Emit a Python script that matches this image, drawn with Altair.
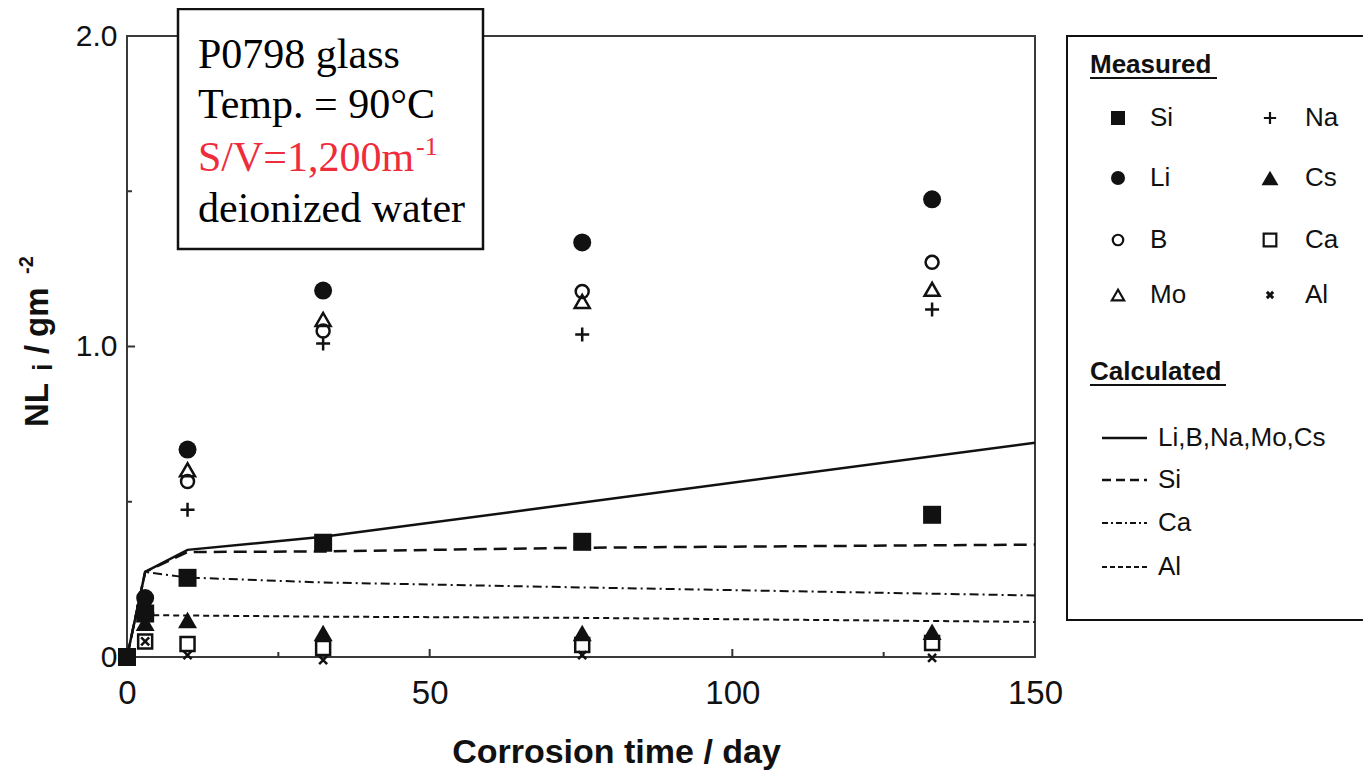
import altair as alt
import pandas as pd

# ---------------- data ----------------
times = [0, 3, 10, 32.4, 75.2, 133]
si = [0, 0.14, 0.255, 0.368, 0.371, 0.458]
li = [None, 0.19, 0.668, 1.18, 1.335, 1.474]
b = [None, 0.15, 0.565, 1.05, 1.177, 1.271]
mo = [None, 0.165, 0.603, 1.087, 1.145, 1.184]
na = [None, 0.12, 0.474, 1.01, 1.039, 1.119]
cs = [None, 0.11, 0.119, 0.077, 0.077, 0.081]
ca = [None, 0.05, 0.042, 0.029, 0.039, 0.045]
al = [None, 0.05, 0.006, -0.01, 0.006, -0.003]

calc_all_t = [0, 3, 10, 32.4, 150]
calc_all_v = [0, 0.274, 0.345, 0.387, 0.69]
calc_si_t = [0, 3, 10, 32.4, 75.2, 150]
calc_si_v = [0, 0.274, 0.338, 0.34, 0.352, 0.362]
calc_ca_t = [0, 3, 10, 32.4, 75.2, 150]
calc_ca_v = [0, 0.274, 0.256, 0.24, 0.224, 0.198]
calc_al_t = [0, 1.5, 32.4, 75.2, 150]
calc_al_v = [0, 0.135, 0.13, 0.126, 0.113]

xtick_major = [50, 100]
xtick_minor = [25, 75, 125]
ytick_major = [1.0]
ytick_minor = [0.5, 1.5]

# ---------------- layout ----------------
OX, OY = 127, 36          # page position of plot origin
W, H = 908, 621
PAD = {"left": OX - 8, "top": OY - 8, "right": 1355 - (OX - 8) - W, "bottom": 763 - (OY - 8) - H}
INK = "#111111"
SANS = "Liberation Sans"
SERIF = "Liberation Serif"

xscale = alt.Scale(domain=[0, 150], nice=False, zero=False)
yscale = alt.Scale(domain=[0, 2], nice=False, zero=False)
xaxis = alt.Axis(values=[0, 50, 100, 150], ticks=False, domain=False, grid=False,
                 labelFlush=False, labelOverlap=False,
                 labelFont=SANS, labelFontSize=33, labelColor=INK, labelPadding=20,
                 title="Corrosion time / day", titleFont=SANS, titleFontSize=34,
                 titleFontWeight="bold", titleColor=INK, titleX=616 - OX, titleY=762 - (OY + H),
                 titleAlign="center", titleBaseline="alphabetic")
yaxis = alt.Axis(values=[0, 1, 2], ticks=False, domain=False, grid=False,
                 labelFlush=False, labelOverlap=False,
                 labelFont=SANS, labelFontSize=30, labelColor=INK, labelPadding=10,
                 labelExpr="datum.value == 0 ? '0' : format(datum.value, '.1f')", title=None)
X = alt.X("t:Q", scale=xscale, axis=xaxis)
Y = alt.Y("v:Q", scale=yscale, axis=yaxis)

one = pd.DataFrame({"k": [0]})
PLUS = "M-1,0L1,0M0,-1L0,1"
CROSS = "M-1,-1L1,1M-1,1L1,-1"


def series(tl, vl):
    d = pd.DataFrame({"t": tl, "v": vl})
    return d.dropna()


def pts(vals, shape, size, filled, sw=2.5):
    return alt.Chart(series(times, vals)).mark_point(
        shape=shape, size=size, filled=filled, color=INK, strokeWidth=sw, opacity=1
    ).encode(x=X, y=Y)


def line(tl, vl, dash, sw):
    kw = dict(color=INK, strokeWidth=sw)
    if dash:
        kw["strokeDash"] = dash
    return alt.Chart(series(tl, vl)).mark_line(**kw).encode(x=X, y=Y)


def txt(s, px, py, size, weight="normal", font=SANS, color=INK, align="left",
        baseline="alphabetic", angle=0):
    return alt.Chart(one).mark_text(
        text=s, fontSize=size, fontWeight=weight, font=font, color=color,
        align=align, baseline=baseline, angle=angle
    ).encode(x=alt.value(px - OX), y=alt.value(py - OY))


def hrule(x1, x2, py, sw=2, dash=None):
    kw = dict(color=INK, strokeWidth=sw)
    if dash:
        kw["strokeDash"] = dash
    return alt.Chart(one).mark_rule(**kw).encode(
        x=alt.value(x1 - OX), x2=alt.value(x2 - OX), y=alt.value(py - OY))


def box(x1, x2, y1, y2, sw):
    return alt.Chart(one).mark_rect(fill="white", stroke=INK, strokeWidth=sw).encode(
        x=alt.value(x1 - OX), x2=alt.value(x2 - OX), y=alt.value(y1 - OY), y2=alt.value(y2 - OY))


def sym(shape, px, py, size, filled, sw=2.2):
    return alt.Chart(one).mark_point(shape=shape, size=size, filled=filled, color=INK,
                                     strokeWidth=sw, opacity=1).encode(
        x=alt.value(px - OX), y=alt.value(py - OY))


layers = []

# inward ticks
layers.append(alt.Chart(pd.DataFrame({"t": xtick_major})).mark_rule(color="#333", strokeWidth=2)
              .encode(x=X, y=alt.value(H), y2=alt.value(H - 8)))
layers.append(alt.Chart(pd.DataFrame({"t": xtick_minor})).mark_rule(color="#333", strokeWidth=2)
              .encode(x=X, y=alt.value(H), y2=alt.value(H - 5)))
layers.append(alt.Chart(pd.DataFrame({"v": ytick_major})).mark_rule(color="#333", strokeWidth=2)
              .encode(y=Y, x=alt.value(0), x2=alt.value(8)))
layers.append(alt.Chart(pd.DataFrame({"v": ytick_minor})).mark_rule(color="#333", strokeWidth=2)
              .encode(y=Y, x=alt.value(0), x2=alt.value(5)))

# calculated curves
layers.append(line(calc_al_t, calc_al_v, [6, 4], 2))
layers.append(line(calc_ca_t, calc_ca_v, [9, 4, 2, 4], 2))
layers.append(line(calc_si_t, calc_si_v, [13, 7], 2.5))
layers.append(line(calc_all_t, calc_all_v, None, 2.5))

# measured points
layers.append(pts(ca, "square", 196, False))
layers.append(pts(al, CROSS, 64, False))
layers.append(pts(b, "circle", 169, False))
layers.append(pts(mo, "triangle-up", 225, False))
layers.append(pts(na, PLUS, 196, False))
layers.append(pts(cs, "triangle-up", 361, True))
layers.append(pts(si, "square", 324, True))
layers.append(pts(li, "circle", 324, True))

# y-axis title (rotated, with sub/superscript)
layers.append(txt("NL", 48, 427, 33, "bold", angle=270))
layers.append(txt("i", 52, 371, 27, "bold", angle=270))
layers.append(txt("/", 48, 354, 33, "bold", angle=270))
layers.append(txt("gm", 48, 337, 33, "bold", angle=270))
layers.append(txt("-2", 33, 274, 20, "bold", angle=270))

# annotation box
layers.append(box(178, 483, 9, 249, 2.5))
layers.append(txt("P0798 glass", 198, 68, 42, font=SERIF, color="black"))
layers.append(txt("Temp. = 90°C", 198, 118, 42, font=SERIF, color="black"))
layers.append(txt("S/V=1,200m", 198, 171, 42, font=SERIF, color="#EE2C3C"))
layers.append(txt("-1", 416, 155, 26, font=SERIF, color="#EE2C3C"))
layers.append(txt("deionized water", 198, 222, 42, font=SERIF, color="black"))

# legend box
layers.append(box(1067, 1400, 36, 620, 2))
layers.append(txt("Measured", 1090, 73, 26, "bold"))
layers.append(hrule(1090, 1217, 78, 2))
rows = [118, 178, 240, 295]
lx_sym, lx_txt, rx_sym, rx_txt = 1118, 1150, 1270, 1305
layers.append(sym("square", lx_sym, rows[0], 196, True))
layers.append(txt("Si", lx_txt, rows[0], 26, baseline="middle"))
layers.append(sym(PLUS, rx_sym, rows[0], 150, False))
layers.append(txt("Na", rx_txt, rows[0], 26, baseline="middle"))
layers.append(sym("circle", lx_sym, rows[1], 196, True))
layers.append(txt("Li", lx_txt, rows[1], 26, baseline="middle"))
layers.append(sym("triangle-up", rx_sym, rows[1], 289, True))
layers.append(txt("Cs", rx_txt, rows[1], 26, baseline="middle"))
layers.append(sym("circle", lx_sym, rows[2], 110, False))
layers.append(txt("B", lx_txt, rows[2], 26, baseline="middle"))
layers.append(sym("square", rx_sym, rows[2], 160, False))
layers.append(txt("Ca", rx_txt, rows[2], 26, baseline="middle"))
layers.append(sym("triangle-up", lx_sym, rows[3], 150, False))
layers.append(txt("Mo", lx_txt, rows[3], 26, baseline="middle"))
layers.append(sym(CROSS, rx_sym, rows[3], 40, False, 3))
layers.append(txt("Al", rx_txt, rows[3], 26, baseline="middle"))

layers.append(txt("Calculated", 1090, 380, 26, "bold"))
layers.append(hrule(1090, 1226, 385, 2))
lrows = [438, 480, 523, 567]
layers.append(hrule(1102, 1147, lrows[0], 2.5))
layers.append(txt("Li,B,Na,Mo,Cs", 1158, lrows[0], 26, baseline="middle"))
layers.append(hrule(1102, 1147, lrows[1], 2.5, [9, 5]))
layers.append(txt("Si", 1158, lrows[1], 26, baseline="middle"))
layers.append(hrule(1102, 1147, lrows[2], 2, [6, 3, 2, 3]))
layers.append(txt("Ca", 1158, lrows[2], 26, baseline="middle"))
layers.append(hrule(1102, 1147, lrows[3], 2, [5, 3]))
layers.append(txt("Al", 1158, lrows[3], 26, baseline="middle"))

chart = alt.layer(*layers).properties(
    width=W, height=H, padding=PAD, autosize=alt.AutoSizeParams(type="none"),
    background="white"
).configure_view(stroke="#3a3a3a", strokeWidth=2, fill="white")

chart.save("out.html", embed_options={"renderer": "svg", "actions": False})
